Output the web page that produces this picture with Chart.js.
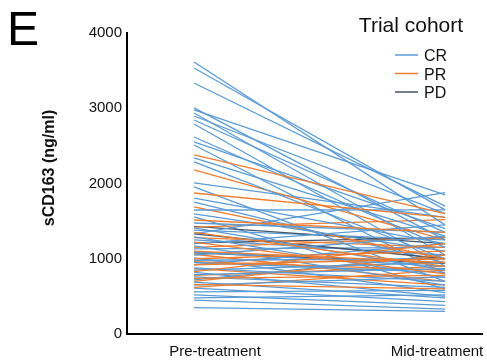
<!DOCTYPE html>
<html lang="en">
<head>
<meta charset="UTF-8">
<title>sCD163 trial cohort</title>
<script src="https://cdn.jsdelivr.net/npm/chart.js"></script>
<style>
  body { margin: 0; background: white; }
  .wrap { width: 487px; height: 364px; position: relative; }
</style>
</head>
<body>
<div class="wrap"><canvas id="chart" width="487" height="364"></canvas></div>
<script>
// timepoints on the x axis
const timepoints = ["Pre-treatment", "Mid-treatment"];
const yTicks = [0, 1000, 2000, 3000, 4000];

// CR patients (pre / mid, ng/ml)
const crPre = [3615, 3535, 3336, 3004, 2977, 2937, 2897, 2844, 2791, 2618, 2552, 2512, 2339, 2286, 2007,
  1954, 1807, 1754, 1648, 1595, 1555, 1475, 1409, 1380, 1330, 1290, 1250, 1200, 1170, 1130, 1090, 1050,
  1010, 980, 950, 920, 880, 850, 820, 790, 760, 720, 690, 650, 610, 560, 520, 480, 450, 350];
const crMid = [1450, 1650, 1700, 1250, 1850, 1050, 1600, 1350, 900, 1150, 1400, 800, 1300, 1000, 1550,
  700, 1200, 950, 1650, 1100, 600, 1350, 850, 1250, 1880, 750, 1050, 1450, 650, 1150, 900, 1300,
  550, 1000, 820, 1200, 700, 950, 500, 870, 620, 1050, 480, 760, 430, 580, 380, 520, 330, 300];

// PR patients
const prPre = [2379, 2180, 1874, 1688, 1515, 1420, 1350, 1280, 1220, 1150, 1100, 1060, 1000, 960, 920, 870, 830, 780, 740, 700, 660, 620];
const prMid = [1600, 1250, 1550, 1000, 1350, 1520, 900, 1150, 800, 1280, 950, 700, 1100, 850, 1000, 650, 1200, 900, 780, 1050, 600, 850];

// PD patients
const pdPre = [1430, 1330, 1210, 1080];
const pdMid = [1200, 1000, 1280, 940];

const groups = [
  { label: "CR", color: "#5b9bd5", pre: crPre, mid: crMid },
  { label: "PR", color: "#ed7d31", pre: prPre, mid: prMid },
  { label: "PD", color: "#44546a", pre: pdPre, mid: pdMid }
];

const FONT = '"Liberation Sans", Arial, sans-serif';

// one dataset per patient
const datasets = [];
groups.forEach((g, gi) => {
  g.pre.forEach((v, i) => {
    datasets.push({
      label: g.label,
      data: [{ x: 0, y: v }, { x: 1, y: g.mid[i] }],
      borderColor: g.color,
      borderWidth: 1.3,
      pointRadius: 0,
      order: gi === 0 ? (i % 3) + 1 : (gi === 1 ? (i % 2) * 2 : 2)
    });
  });
});

const textPlugin = {
  id: "texts",
  afterDraw(chart) {
    const c = chart.ctx;
    c.save();
    c.fillStyle = "#000";
    c.textBaseline = "alphabetic";
    // panel letter
    c.font = "48px " + FONT;
    c.textAlign = "left";
    c.fillText("E", 7, 45);
    // legend
    c.font = "21px " + FONT;
    c.textAlign = "center";
    c.fillStyle = "#111";
    c.fillText("Trial cohort", 411, 32);
    c.font = "16px " + FONT;
    c.textAlign = "left";
    groups.forEach((g, i) => {
      const y = 55 + i * 18.5;
      c.strokeStyle = g.color;
      c.lineWidth = 1.5;
      c.beginPath();
      c.moveTo(395, y);
      c.lineTo(418, y);
      c.stroke();
      c.fillText(g.label, 424, y + 6);
    });
    // y title
    c.save();
    c.translate(54, 168);
    c.rotate(-Math.PI / 2);
    c.font = "bold 16px " + FONT;
    c.textAlign = "center";
    c.fillText("sCD163 (ng/ml)", 0, 0);
    c.restore();
    // x labels
    c.font = "15px " + FONT;
    c.textAlign = "center";
    c.fillText(timepoints[0], 215, 356);
    c.fillText(timepoints[1], 437, 356);
    c.restore();
  }
};

new Chart(document.getElementById("chart").getContext("2d"), {
  type: "line",
  data: { datasets },
  options: {
    responsive: false,
    animation: false,
    layout: { padding: { top: 33, right: 5, left: 0, bottom: 0 } },
    plugins: { legend: { display: false }, tooltip: { enabled: false } },
    scales: {
      x: {
        type: "linear",
        min: -0.267,
        max: 1.147,
        grid: { display: false, drawTicks: false },
        border: { display: true, color: "#000", width: 2 },
        ticks: { display: false },
        afterFit(s) { s.height = 30; }
      },
      y: {
        min: 0,
        max: 4000,
        grid: { display: false, drawTicks: false },
        border: { display: true, color: "#000", width: 2 },
        afterBuildTicks(s) { s.ticks = yTicks.map(v => ({ value: v })); },
        ticks: {
          padding: 5,
          color: "#111",
          font: { family: FONT, size: 15 },
          callback: v => String(v)
        },
        afterFit(s) { s.width = 127; }
      }
    }
  },
  plugins: [textPlugin]
});
</script>
</body>
</html>
